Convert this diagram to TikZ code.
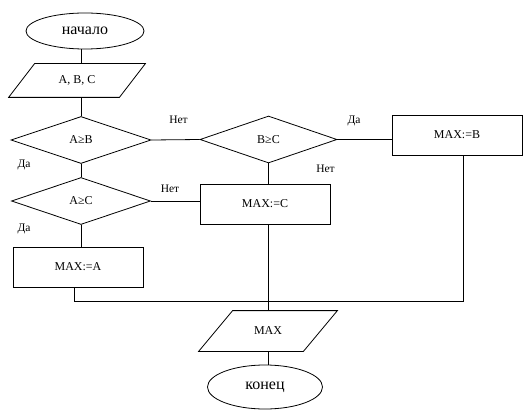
\documentclass[tikz,border=0pt]{standalone}
\usepackage{fontspec}
\setmainfont{Liberation Serif}
\usetikzlibrary{shapes.geometric}
\begin{document}
\begin{tikzpicture}[x=1pt,y=-1pt,
  every path/.style={line width=0.8pt},
  term/.style={draw,ellipse,inner sep=0pt,font=\fontsize{16}{18}\selectfont},
  io/.style={rectangle,inner sep=0pt,font=\fontsize{12}{14}\selectfont},
  cond/.style={draw,diamond,inner sep=0pt,font=\fontsize{12}{14}\selectfont},
  proc/.style={draw,rectangle,inner sep=0pt,minimum width=130pt,minimum height=40pt,font=\fontsize{12}{14}\selectfont},
  lbl/.style={font=\fontsize{11.5}{13}\selectfont,inner sep=0pt}]
\useasboundingbox (0,0) rectangle (527,417);
\node[term,minimum width=118pt,minimum height=36pt] (start) at (85,31) {начало};
\node[io,minimum width=110pt,minimum height=33pt] (abc) at (77,80.5) {A, B, C};
\draw ([xshift=13pt]abc.north west) -- ([xshift=13pt]abc.north east) -- ([xshift=-13pt]abc.south east) -- ([xshift=-13pt]abc.south west) -- cycle;
\node[cond,minimum width=140pt,minimum height=47pt] (d1) at (81,140) {A≥B};
\node[cond,minimum width=139pt,minimum height=47pt] (d2) at (81,201) {A≥C};
\node[cond,minimum width=137pt,minimum height=47pt] (d3) at (268.5,139.5) {B≥C};
\node[proc] (boxA) at (78,267) {MAX:=A};
\node[proc] (boxC) at (265,204) {MAX:=C};
\node[proc] (boxB) at (457,135) {MAX:=B};
\node[io,minimum width=104pt,minimum height=40pt] (out) at (268,331) {MAX};
\draw ([xshift=17pt]out.north west) -- ([xshift=17pt]out.north east) -- ([xshift=-17pt]out.south east) -- ([xshift=-17pt]out.south west) -- cycle;
\node[term,minimum width=115pt,minimum height=44pt] (end) at (265,387) {конец};
\coordinate (jl) at (74,301);
\coordinate (jm) at (268,301);
\coordinate (jr) at (463,301);
\draw (start.south -| d1) -- (abc.north -| d1);
\draw (abc.south -| d1) -- (d1.north);
\draw (d1.south) -- (d2.north);
\draw (d2.south) -- (boxA.north -| d2);
\draw (d1.east) -- (d3.west);
\draw (d2.east) -- (d2.east -| boxC.west);
\draw (d3.east) -- (d3.east -| boxB.west);
\draw (d3.south) -- (d3.south |- boxC.north);
\draw (boxA.south -| jl) -- (jl) -- (jr) -- (boxB.south -| jr);
\draw (boxC.south -| jm) -- (out.north -| jm);
\draw (out.south -| jm) -- (end.north -| jm);
\node[lbl] (l1) at (178.5,120) {Нет};
\node[lbl] (l2) at (24,165) {Да};
\node[lbl] (l3) at (170,189) {Нет};
\node[lbl] (l4) at (24,229) {Да};
\node[lbl] (l5) at (354,121) {Да};
\node[lbl] (l6) at (325.5,169) {Нет};
\end{tikzpicture}
\end{document}
